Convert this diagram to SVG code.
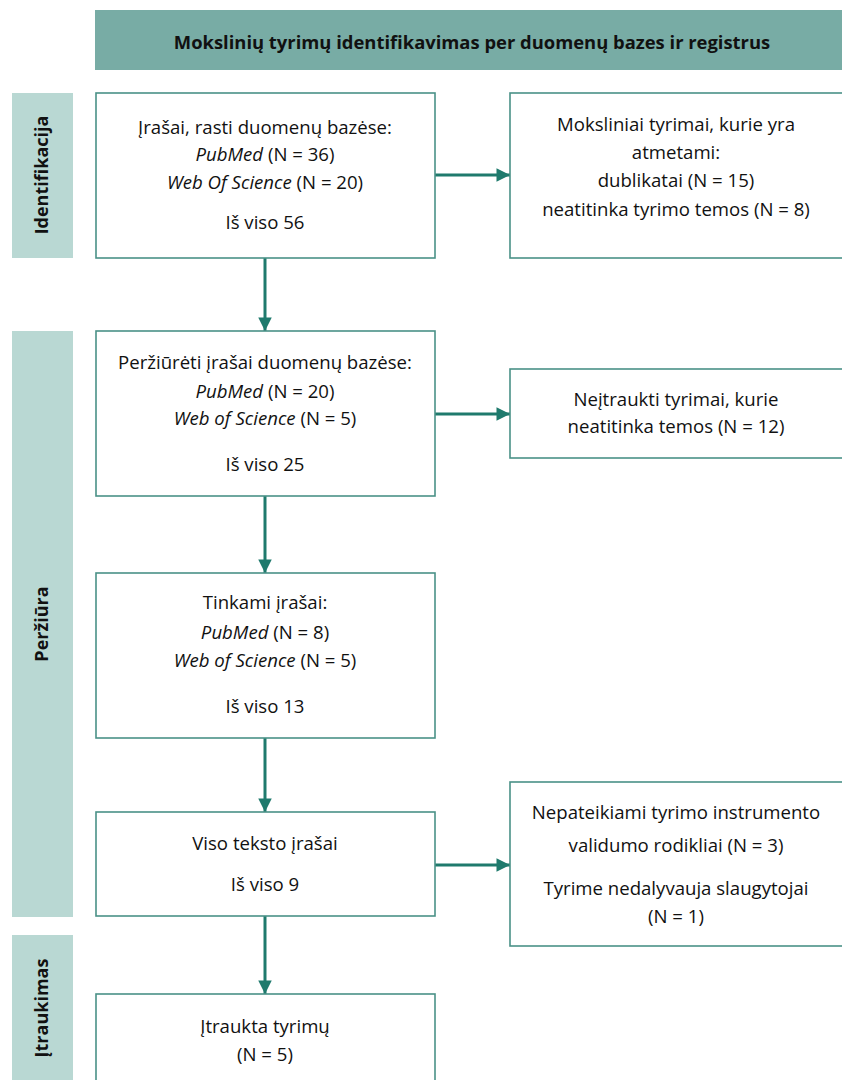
<svg xmlns="http://www.w3.org/2000/svg" width="842" height="1080" viewBox="0 0 842 1080">
<style>
.box{fill:#ffffff;stroke:#4a9187;stroke-width:1.6}
.side{fill:#b9d8d3}
.t{font-family:"Open Sans","Noto Sans",sans-serif;font-size:18.6px;fill:#111;text-anchor:middle}
.hd{font-family:"Open Sans","Noto Sans",sans-serif;font-size:18.4px;font-weight:bold;fill:#111;text-anchor:middle}
.sl{font-family:"Open Sans","Noto Sans",sans-serif;font-size:18px;font-weight:bold;fill:#111;text-anchor:middle}
.c{stroke:#1f7a6d;stroke-width:3;fill:none}
</style>
<defs>
<marker id="ah" viewBox="0 0 10 10" refX="10" refY="5" markerWidth="5" markerHeight="4.5" markerUnits="strokeWidth" orient="auto">
<path d="M0,0 L10,5 L0,10 Z" fill="#1f7a6d"/>
</marker>
</defs>
<rect width="842" height="1080" fill="#ffffff"/>
<g id="header">
<rect x="95" y="10" width="760" height="60" fill="#78aca5"/>
<text class="hd" x="472" y="49">Mokslinių tyrimų identifikavimas per duomenų bazes ir registrus</text>
</g>
<g id="side-identifikacija">
<rect class="side" x="12" y="93" width="61" height="165"/>
<text class="sl" transform="translate(48,175) rotate(-90)">Identifikacija</text>
</g>
<g id="side-perziura">
<rect class="side" x="12" y="331" width="61" height="586"/>
<text class="sl" transform="translate(48,624) rotate(-90)">Peržiūra</text>
</g>
<g id="side-itraukimas">
<rect class="side" x="12" y="935" width="61" height="150"/>
<text class="sl" transform="translate(48,1008) rotate(-90)">Įtraukimas</text>
</g>
<g id="connectors">
<line class="c" x1="265" y1="258" x2="265" y2="331" marker-end="url(#ah)"/>
<line class="c" x1="265" y1="496" x2="265" y2="573" marker-end="url(#ah)"/>
<line class="c" x1="265" y1="738" x2="265" y2="812" marker-end="url(#ah)"/>
<line class="c" x1="265" y1="916" x2="265" y2="994" marker-end="url(#ah)"/>
<line class="c" x1="435" y1="175" x2="510" y2="175" marker-end="url(#ah)"/>
<line class="c" x1="435" y1="414" x2="510" y2="414" marker-end="url(#ah)"/>
<line class="c" x1="435" y1="865" x2="510" y2="865" marker-end="url(#ah)"/>
</g>
<g id="n1">
<rect class="box" x="96" y="93" width="339" height="165"/>
<text class="t" x="265" y="134">Įrašai, rasti duomenų bazėse:</text>
<text class="t" x="265" y="161"><tspan font-style="italic">PubMed</tspan> (N = 36)</text>
<text class="t" x="265" y="189"><tspan font-style="italic">Web Of Science</tspan> (N = 20)</text>
<text class="t" x="265" y="229">Iš viso 56</text>
</g>
<g id="n1r">
<rect class="box" x="510" y="93" width="345" height="165"/>
<text class="t" x="676" y="131">Moksliniai tyrimai, kurie yra</text>
<text class="t" x="676" y="159">atmetami:</text>
<text class="t" x="676" y="187">dublikatai (N = 15)</text>
<text class="t" x="676" y="216">neatitinka tyrimo temos (N = 8)</text>
</g>
<g id="n2">
<rect class="box" x="96" y="331" width="339" height="165"/>
<text class="t" x="265" y="369">Peržiūrėti įrašai duomenų bazėse:</text>
<text class="t" x="265" y="398"><tspan font-style="italic">PubMed</tspan> (N = 20)</text>
<text class="t" x="265" y="425"><tspan font-style="italic">Web of Science</tspan> (N = 5)</text>
<text class="t" x="265" y="471">Iš viso 25</text>
</g>
<g id="n2r">
<rect class="box" x="510" y="369" width="345" height="89"/>
<text class="t" x="676" y="406">Neįtraukti tyrimai, kurie</text>
<text class="t" x="676" y="433">neatitinka temos (N = 12)</text>
</g>
<g id="n3">
<rect class="box" x="96" y="573" width="339" height="165"/>
<text class="t" x="265" y="609">Tinkami įrašai:</text>
<text class="t" x="265" y="639"><tspan font-style="italic">PubMed</tspan> (N = 8)</text>
<text class="t" x="265" y="667"><tspan font-style="italic">Web of Science</tspan> (N = 5)</text>
<text class="t" x="265" y="713">Iš viso 13</text>
</g>
<g id="n4">
<rect class="box" x="96" y="812" width="339" height="104"/>
<text class="t" x="265" y="850">Viso teksto įrašai</text>
<text class="t" x="265" y="891">Iš viso 9</text>
</g>
<g id="n4r">
<rect class="box" x="510" y="782" width="345" height="164"/>
<text class="t" x="676" y="819">Nepateikiami tyrimo instrumento</text>
<text class="t" x="676" y="852">validumo rodikliai (N = 3)</text>
<text class="t" x="676" y="895">Tyrime nedalyvauja slaugytojai</text>
<text class="t" x="676" y="923">(N = 1)</text>
</g>
<g id="n5">
<rect class="box" x="96" y="994" width="339" height="100"/>
<text class="t" x="265" y="1033">Įtraukta tyrimų</text>
<text class="t" x="265" y="1061">(N = 5)</text>
</g>
</svg>
